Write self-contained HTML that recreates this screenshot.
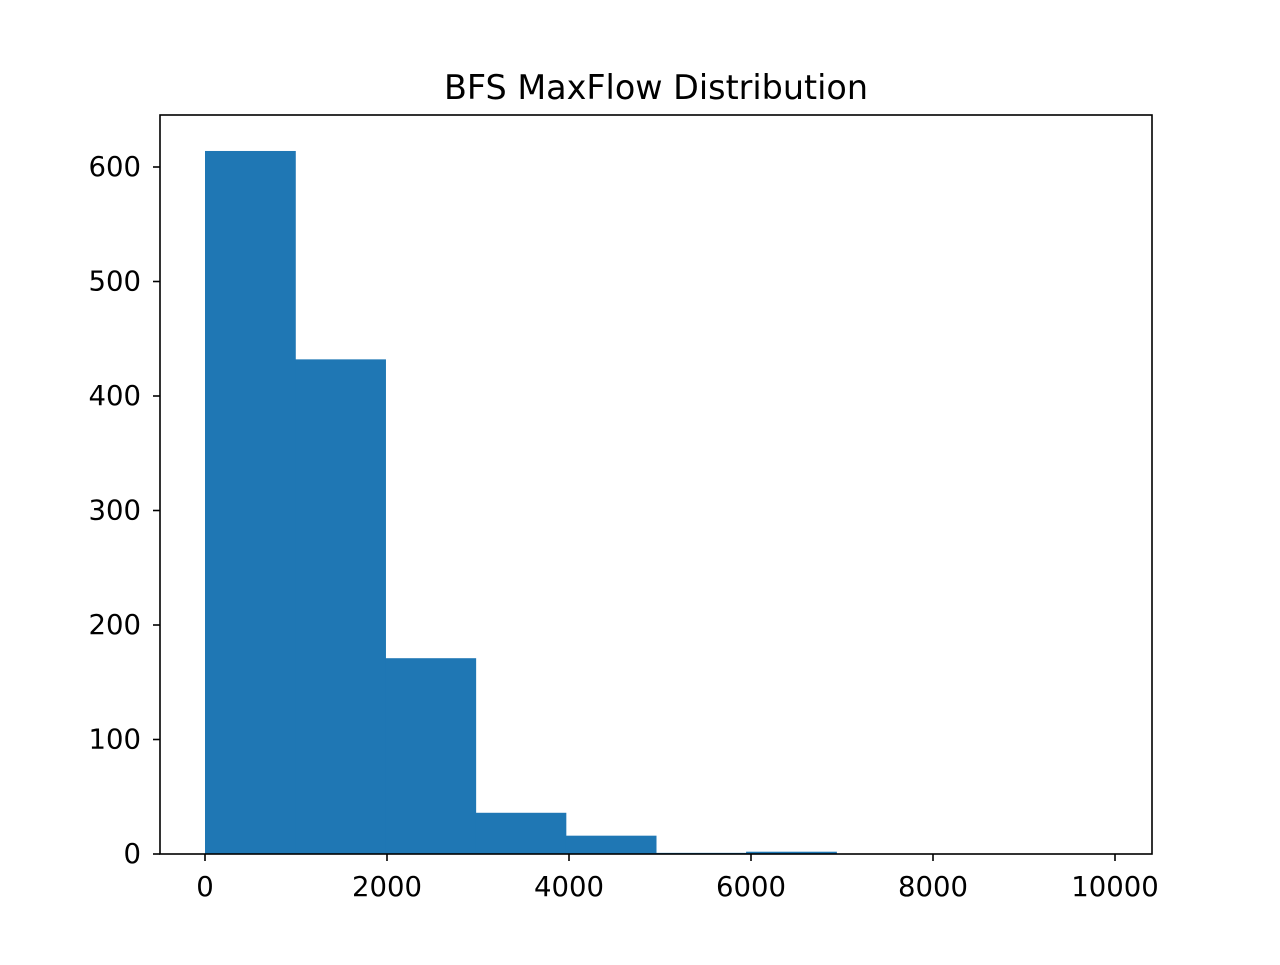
<!DOCTYPE html>
<html><head><meta charset="utf-8"><style>
body{margin:0;background:#fff}
svg text{font-family:"DejaVu Sans","Liberation Sans",sans-serif;fill:#000}
</style></head><body>
<svg id="chart" width="1280" height="960" xmlns="http://www.w3.org/2000/svg">
<rect width="1280" height="960" fill="#fff"/>
<text x="656" y="99" font-size="33.4" text-anchor="middle">BFS MaxFlow Distribution</text>
<g id="bars"></g>
<rect x="160" y="115" width="992" height="739" fill="none" stroke="#000" stroke-width="1.6"/>
<g id="ticks"></g>
</svg>
<script>
const binStart = 0;
const binWidth = 991;
const counts = [614, 432, 171, 36, 16, 1, 2, 0, 0, 0];
const xTicks = [0, 2000, 4000, 6000, 8000, 10000];
const yTicks = [0, 100, 200, 300, 400, 500, 600];
const X0 = 205, XS = 0.091, Y0 = 854, YS = 1.145;
function xs(v){return X0 + v*XS;}
function ys(v){return Y0 - v*YS;}
const NS = "http://www.w3.org/2000/svg";
const bars = document.getElementById('bars');
counts.forEach((c,i)=>{
  const r = document.createElementNS(NS,'rect');
  const x1 = xs(binStart+i*binWidth), x2 = xs(binStart+(i+1)*binWidth);
  r.setAttribute('x',x1); r.setAttribute('width',x2-x1+0.6);
  r.setAttribute('y',ys(c)); r.setAttribute('height',Y0-ys(c));
  r.setAttribute('fill','#1f77b4');
  
  
  bars.appendChild(r);
});
const tg = document.getElementById('ticks');
xTicks.forEach(t=>{
  const x = xs(t);
  const l = document.createElementNS(NS,'line');
  l.setAttribute('x1',x); l.setAttribute('x2',x); l.setAttribute('y1',854); l.setAttribute('y2',861);
  l.setAttribute('stroke','#000'); l.setAttribute('stroke-width','1.6');
  
  
  tg.appendChild(l);
  const tx = document.createElementNS(NS,'text');
  tx.setAttribute('x',x); tx.setAttribute('y',896); tx.setAttribute('font-size','27.5');
  tx.setAttribute('text-anchor','middle'); tx.textContent = t;
  
  
  tg.appendChild(tx);
});
yTicks.forEach(t=>{
  const y = ys(t);
  const l = document.createElementNS(NS,'line');
  l.setAttribute('x1',153); l.setAttribute('x2',160); l.setAttribute('y1',y); l.setAttribute('y2',y);
  l.setAttribute('stroke','#000'); l.setAttribute('stroke-width','1.6');
  
  
  tg.appendChild(l);
  const tx = document.createElementNS(NS,'text');
  tx.setAttribute('x',141); tx.setAttribute('y',y+9); tx.setAttribute('font-size','27.5');
  tx.setAttribute('text-anchor','end'); tx.textContent = t;
  
  
  tg.appendChild(tx);
});
</script>
</body></html>
